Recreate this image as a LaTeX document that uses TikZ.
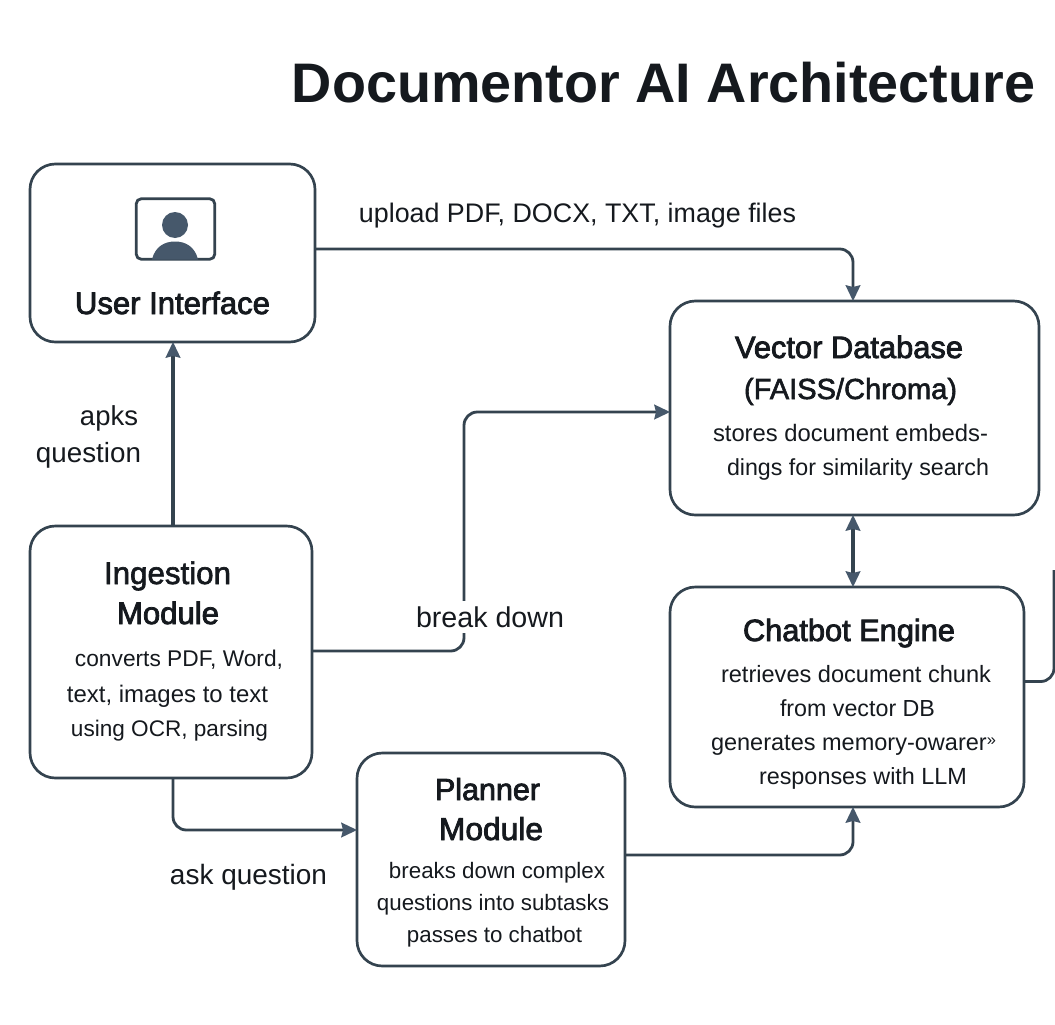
\documentclass[tikz,border=0pt]{standalone}
\usepackage{graphicx}
\usepackage{fontspec}
\setmainfont{Liberation Sans}
\newfontfamily\headfont[FakeBold=2.6]{Liberation Sans}
\newfontfamily\labfont[FakeBold=2.0]{Liberation Sans}
\usetikzlibrary{arrows.meta,calc}
\definecolor{ink}{HTML}{34434F}
\definecolor{iconfill}{HTML}{46586B}
\definecolor{txt}{HTML}{15191E}
\newlength\txunit
\setlength\txunit{0.75pt}
\newcommand\tx[6][]{\node[textline,#1] (#2) at (#3,#4) {\resizebox{#5\txunit}{!}{#6}};}
\tikzset{
  x=0.75pt,y=-0.75pt,
  textline/.style={anchor=base,inner sep=0pt,outer sep=0pt,text=txt},
  box/.style={draw=ink,line width=2pt,rounded corners=19pt,fill=white,inner sep=0pt,outer sep=0pt},
  conn/.style={draw=ink,line width=2.1pt,rounded corners=10pt},
  straightconn/.style={conn,line width=2.35pt},
  arrowtip/.tip={Stealth[length=12pt,width=11.5pt,inset=1.5pt,color=iconfill,line width=0pt]},
  tip/.style={-arrowtip},
  tips/.style={arrowtip-arrowtip},
}
\begin{document}
\begin{tikzpicture}
\useasboundingbox[fill=white] (0,0) rectangle (1055,1024);
\begin{scope}
\clip (0,0) rectangle (1055,1024);
% boxes
\node[box,minimum width=213.75pt,minimum height=133.5pt] (ui) at (172.5,253) {};
\node[box,minimum width=276.75pt,minimum height=160.5pt] (vec) at (854.5,408) {};
\node[box,minimum width=211.5pt,minimum height=189pt] (ing) at (171,652) {};
\node[box,minimum width=265.5pt,minimum height=165pt] (chat) at (847,697) {};
\node[box,minimum width=201pt,minimum height=159.75pt] (plan) at (491,859.5) {};
% free ends
\coordinate (stubend) at (1054,570);
\coordinate (bendA) at (853,249);
\coordinate (bendB) at (464,651);
\coordinate (bendB2) at (464,412);
\coordinate (bendC) at (173,830);
\coordinate (bendD) at (853,855);
\coordinate (bendE) at (1054,681.5);
% connectors
\draw[conn,tip] ([yshift=3pt]ui.east) -- (bendA) -- ([xshift=-1.125pt]vec.north);
\draw[straightconn,tip] ([xshift=1.5pt]ing.north) -- ([xshift=0.375pt]ui.south);
\draw[conn,tip] ([yshift=0.75pt]ing.east) -- (bendB) -- (bendB2) -- ([yshift=-3pt]vec.west);
\draw[conn,tip] ([xshift=1.5pt]ing.south) -- (bendC) -- ([yshift=22.125pt]plan.west);
\draw[conn,tip] ([yshift=3.375pt]plan.east) -- (bendD) -- ([xshift=4.5pt]chat.south);
\draw[straightconn,tips] ([xshift=-1.125pt]vec.south) -- ([xshift=4.5pt]chat.north);
\draw[conn] ([yshift=11.625pt]chat.east) -- (bendE) -- (stubend);
% icon
\node[draw=ink,line width=2.1pt,rounded corners=4pt,minimum width=59pt,minimum height=45.5pt,inner sep=0pt,outer sep=0pt] (icon) at (175.5,229) {};
\fill[iconfill] (175,225) circle[radius=13];
\fill[iconfill] (152,259.5) .. controls (155,247) and (164,241.5) .. (175,241.5) .. controls (186,241.5) and (195,247) .. (198,259.5) -- cycle;
% title
\tx{title}{663.5}{103}{743}{\bfseries Documentor AI Architecture}
% User interface
\tx{uilab}{172.5}{314}{195}{\headfont User Interface}
\tx{lupload}{577.5}{222}{437}{upload PDF, DOCX, TXT, image files}
\tx{lapks}{109}{425}{58}{apks}
\tx{lquestion}{88.5}{462}{105}{question}
% Ingestion
\tx{inga}{167.5}{584}{127}{\labfont Ingestion}
\tx{ingb}{168}{624}{102}{\headfont Module}
\tx{ingc}{179}{666}{208}{converts PDF, Word,}
\tx{ingd}{167.5}{702}{201}{text, images to text}
\tx{inge}{169.5}{736}{197}{using OCR, parsing}
% labels on connectors
\node[fill=white,inner sep=0pt,minimum width=112.5pt,minimum height=24pt] (lbreakbg) at (490,617) {};
\tx{lbreak}{490}{627}{148}{break down}
\tx{lask}{248.5}{884}{157}{ask question}
% Planner
\tx{plana}{487.5}{800}{105}{\headfont Planner}
\tx{planb}{491}{840}{104}{\headfont Module}
\tx{planc}{497}{878}{216}{breaks down complex}
\tx{pland}{493}{910}{232}{questions into subtasks}
\tx{plane}{494.5}{942}{175}{passes to chatbot}
% Vector
\tx{veca}{849}{358}{228}{\headfont Vector Database}
\tx{vecb}{850.5}{399}{213}{\labfont (FAISS/Chroma)}
\tx{vecc}{850.5}{441}{275}{stores document embeds-}
\tx{vecd}{858}{475}{262}{dings for similarity search}
% Chatbot
\tx{chata}{849}{641}{212}{\headfont Chatbot Engine}
\tx{chatb}{856}{682}{270}{retrieves document chunk}
\tx{chatc}{857.5}{716}{155}{from vector DB}
\tx{chatd}{853.5}{750}{285}{generates memory-owarer\raisebox{2pt}{\scriptsize »}}
\tx{chate}{863}{784}{208}{responses with LLM}
\end{scope}
\end{tikzpicture}
\end{document}
